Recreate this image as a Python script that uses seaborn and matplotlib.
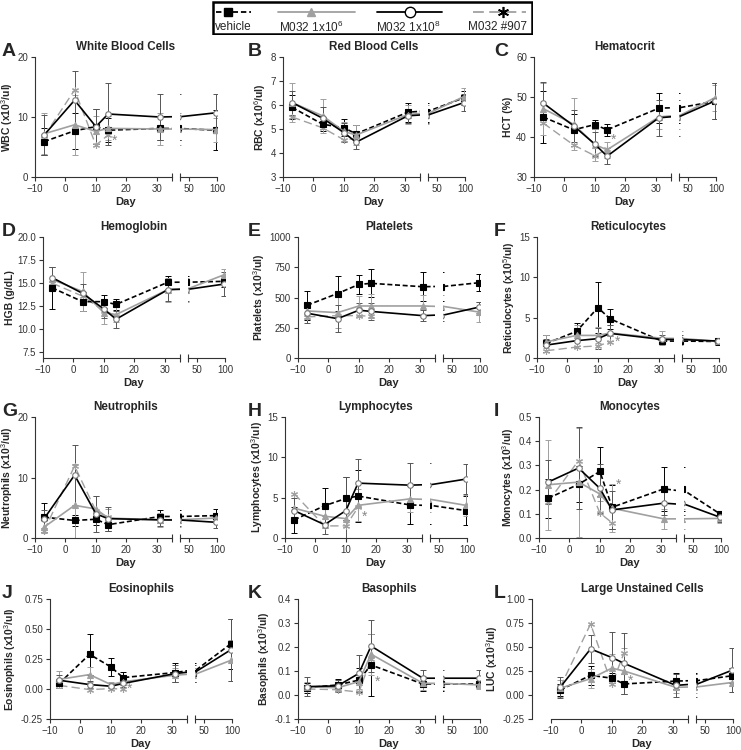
import numpy as np
import matplotlib
matplotlib.use("Agg")
import matplotlib.pyplot as plt
import seaborn as sns
from matplotlib.patches import Rectangle

sns.set_style("ticks")
plt.rcParams['font.family'] = ['Liberation Sans', 'DejaVu Sans']
plt.rcParams['mathtext.fontset'] = 'custom'
plt.rcParams['mathtext.rm'] = 'Liberation Sans'
plt.rcParams['mathtext.bf'] = 'Liberation Sans:bold'

# -------------------
# DATA
# -------------------
days = [-7, 3, 10, 14, 31, 98]
days_907 = [-7, 3, 10, 14]
series_names = ["vehicle", "M032 1x10$^6$", "M032 1x10$^8$", "M032 #907"]

# order of mean / sd rows: vehicle, 1x10^6, 1x10^8
wbc_mean = [[5.9, 7.7, 8.4, 7.8, 8.1, 7.8], [7.2, 8.7, 7.6, 8.1, 8.0, 7.9], [7.0, 12.8, 8.4, 10.5, 10.0, 10.7]]
wbc_sd = [[2.3, 3.0, 2.9, 2.0, 1.9, 3.3], [3.4, 5.0, 2.5, 2.0, 2.7, 2.0], [3.3, 4.9, 2.9, 5.1, 3.9, 3.2]]
wbc_907 = [6.8, 14.5, 5.3, 7.0]
wbc_sig = [(16, 6.1, "*")]

rbc_mean = [[5.9, 5.2, 5.05, 4.8, 5.7, 6.3], [6.1, 5.55, 4.9, 4.75, 5.6, 6.35], [6.1, 5.45, 4.85, 4.45, 5.55, 6.1]]
rbc_sd = [[0.5, 0.3, 0.35, 0.35, 0.4, 0.3], [0.8, 0.7, 0.4, 0.4, 0.4, 0.35], [0.5, 0.45, 0.4, 0.3, 0.3, 0.35]]
rbc_907 = [5.5, 5.05, 4.55, 4.6]
rbc_sig = []

hct_mean = [[45.0, 41.8, 43.1, 41.8, 47.2, 48.9], [47.1, 43.2, 38.1, 36.8, 45.0, 49.8], [48.5, 42.8, 38.2, 35.2, 44.8, 49.0]]
hct_sd = [[6.5, 4.0, 1.2, 1.5, 3.7, 4.5], [6.5, 6.5, 4.0, 2.0, 3.0, 3.3], [5.2, 4.0, 3.0, 2.0, 4.5, 4.5]]
hct_907 = [43.5, 38.0, 35.3, 37.0]
hct_sig = [(16, 39.3, "*")]

hgb_mean = [[14.5, 13.0, 13.0, 12.7, 15.1, 15.2], [15.4, 14.1, 11.8, 11.6, 14.3, 15.9], [15.6, 13.9, 12.2, 11.1, 14.3, 14.9]]
hgb_sd = [[2.3, 1.0, 0.7, 0.6, 0.7, 0.6], [1.3, 2.1, 1.2, 0.8, 1.3, 0.6], [1.1, 1.0, 1.0, 0.9, 1.2, 1.3]]
hgb_907 = [15.0, 13.6, 12.0, 11.5]
hgb_sig = []

plt_mean = [[436, 533, 608, 617, 589, 622], [389, 375, 430, 430, 430, 380], [370, 325, 395, 385, 350, 420]]
plt_sd = [[120, 145, 75, 115, 120, 70], [70, 130, 80, 100, 90, 80], [80, 110, 60, 70, 45, 45]]
plt_907 = [340, 350, 350, 345]
plt_sig = []

ret_mean = [[1.8, 3.3, 6.25, 4.85, 2.1, 2.05], [2.0, 2.8, 2.8, 3.1, 2.45, 2.05], [1.6, 2.15, 2.4, 3.05, 2.3, 2.1]]
ret_sd = [[1.0, 1.1, 3.2, 1.2, 0.3, 0.4], [0.8, 1.3, 1.0, 1.0, 0.9, 0.3], [0.8, 0.9, 1.3, 1.0, 0.5, 0.3]]
ret_907 = [0.9, 1.35, 1.5, 2.0]
ret_sig = [(16.5, 2.05, "*")]

neu_mean = [[3.45, 2.9, 3.1, 2.2, 3.55, 3.7], [1.8, 5.4, 4.8, 3.3, 3.0, 3.3], [3.2, 10.4, 4.0, 3.2, 3.0, 2.6]]
neu_sd = [[2.4, 0.9, 1.0, 1.0, 1.0, 1.1], [1.0, 6.9, 2.2, 1.5, 1.2, 0.8], [1.5, 4.9, 3.0, 2.0, 1.0, 1.0]]
neu_907 = [1.2, 11.9, 4.5, 3.4]
neu_sig = []

lym_mean = [[2.25, 4.0, 4.9, 5.2, 4.1, 3.4], [3.7, 2.7, 2.4, 4.05, 4.85, 4.05], [3.4, 1.65, 3.4, 6.8, 6.55, 7.3]]
lym_sd = [[1.6, 2.2, 2.7, 3.2, 2.4, 1.8], [1.2, 1.5, 1.0, 2.0, 1.6, 1.3], [1.6, 1.1, 4.2, 3.0, 2.7, 1.9]]
lym_907 = [5.5, 1.5, 1.5, 3.8]
lym_sig = [(16, 2.6, "*")]

mon_mean = [[0.164, 0.222, 0.275, 0.127, 0.203, 0.1], [0.22, 0.231, 0.182, 0.123, 0.079, 0.081], [0.231, 0.289, 0.205, 0.116, 0.144, 0.086]]
mon_sd = [[0.08, 0.075, 0.1, 0.09, 0.09, 0.01], [0.185, 0.225, 0.03, 0.1, 0.04, 0.02], [0.09, 0.17, 0.1, 0.08, 0.05, 0.02]]
mon_907 = [0.15, 0.32, 0.103, 0.063]
mon_sig = [(16, 0.22, "*")]

eos_mean = [[0.046, 0.289, 0.184, 0.095, 0.137, 0.377], [0.08, 0.12, 0.037, 0.06, 0.115, 0.239], [0.073, 0.037, 0.023, 0.046, 0.128, 0.327]]
eos_sd = [[0.04, 0.17, 0.075, 0.045, 0.08, 0.21], [0.07, 0.06, 0.02, 0.03, 0.06, 0.17], [0.04, 0.03, 0.03, 0.03, 0.07, 0.26]]
eos_907 = [0.03, -0.005, 0.003, 0.0]
eos_sig = [(16, 0.0, "*")]

bas_mean = [[0.03, 0.042, 0.062, 0.125, 0.046, 0.046], [0.035, 0.03, 0.056, 0.17, 0.049, 0.042], [0.035, 0.038, 0.09, 0.204, 0.07, 0.07]]
bas_sd = [[0.02, 0.025, 0.05, 0.13, 0.03, 0.01], [0.02, 0.015, 0.03, 0.085, 0.03, 0.015], [0.04, 0.025, 0.075, 0.11, 0.035, 0.035]]
bas_907 = [0.025, 0.022, 0.012, 0.15]
bas_sig = [(16, 0.055, "*")]

luc_mean = [[0.052, 0.205, 0.175, 0.115, 0.145, 0.2], [0.07, 0.17, 0.28, 0.25, 0.08, 0.13], [0.08, 0.48, 0.39, 0.33, 0.1, 0.257]]
luc_sd = [[0.06, 0.1, 0.05, 0.1, 0.08, 0.08], [0.09, 0.1, 0.15, 0.24, 0.06, 0.1], [0.11, 0.15, 0.27, 0.32, 0.12, 0.23]]
luc_907 = [0.08, 0.74, 0.11, 0.44]
luc_sig = [(16, 0.15, "*")]

letters = list("ABCDEFGHIJKL")
titles = ["White Blood Cells", "Red Blood Cells", "Hematocrit", "Hemoglobin", "Platelets",
          "Reticulocytes", "Neutrophils", "Lymphocytes", "Monocytes", "Eosinophils",
          "Basophils", "Large Unstained Cells"]
ylabels = ["WBC (x10$^3$/ul)", "RBC (x10$^6$/ul)", "HCT (%)", "HGB (g/dL)",
           "Platelets (x10$^3$/ul)", "Reticulocytes (x10$^5$/ul)", "Neutrophils (x10$^3$/ul)",
           "Lymphocytes (x10$^3$/ul)", "Monocytes (x10$^3$/ul)", "Eosinophils (x10$^3$/ul)",
           "Basophils (x10$^3$/ul)", "LUC (x10$^3$/ul)"]
yticks = [[0, 10, 20], [3, 4, 5, 6, 7, 8], [30, 40, 50, 60], [7.5, 10, 12.5, 15, 17.5, 20],
          [0, 250, 500, 750, 1000], [0, 5, 10, 15], [0, 10, 20], [0, 5, 10, 15],
          [0, 0.1, 0.2, 0.3, 0.4, 0.5], [-0.25, 0, 0.25, 0.5, 0.75], [-0.1, 0, 0.1, 0.2, 0.3, 0.4],
          [-0.25, 0, 0.25, 0.5, 0.75, 1.0]]
yfmt = ["%d", "%d", "%d", "%.1f", "%d", "%d", "%d", "%d", "%.1f", "%.2f", "%.1f", "%.2f"]
ybottom = [0, 3, 30, 6.9, 0, 0, 0, 0, 0, -0.25, -0.1, -0.25]

means = [wbc_mean, rbc_mean, hct_mean, hgb_mean, plt_mean, ret_mean,
         neu_mean, lym_mean, mon_mean, eos_mean, bas_mean, luc_mean]
sds = [wbc_sd, rbc_sd, hct_sd, hgb_sd, plt_sd, ret_sd,
       neu_sd, lym_sd, mon_sd, eos_sd, bas_sd, luc_sd]
single = [wbc_907, rbc_907, hct_907, hgb_907, plt_907, ret_907,
          neu_907, lym_907, mon_907, eos_907, bas_907, luc_907]
sigs = [wbc_sig, rbc_sig, hct_sig, hgb_sig, plt_sig, ret_sig,
        neu_sig, lym_sig, mon_sig, eos_sig, bas_sig, luc_sig]

# -------------------
# STYLE / LAYOUT
# -------------------
GRAY = "#a0a0a0"
styles = [
    dict(color="black", linestyle=(0, (3, 1.6)), marker="s", markersize=4,
         markerfacecolor="black", markeredgecolor="black"),
    dict(color=GRAY, linestyle="-", marker="^", markersize=4,
         markerfacecolor=GRAY, markeredgecolor=GRAY),
    dict(color="black", linestyle="-", marker="o", markersize=4,
         markerfacecolor="white", markeredgecolor="#777777"),
    dict(color=GRAY, linestyle=(0, (6, 3)), marker=(6, 2, 0), markersize=5,
         markerfacecolor=GRAY, markeredgecolor=GRAY),
]
err_colors = ["black", GRAY, "#555555"]

W, H = 741, 750
fig = plt.figure(figsize=(W / 100, H / 100), dpi=100)

row_y = [(57, 177), (237, 358), (417, 538), (599, 719)]
col_x = [[35, 283, 534], [43, 298, 537], [35, 285, 539], [50, 298, 551]]
LW, GAP, RW = 137, 8, 37
BREAK = 35


def px_rect(x, y_top, w, h):
    return [x / W, 1 - (y_top + h) / H, w / W, h / H]


def draw_series(ax, i):
    for k in range(3):
        ax.errorbar(days, means[i][k], yerr=sds[i][k], fmt="none", ecolor=err_colors[k],
                    elinewidth=0.7, capsize=2, capthick=0.7, zorder=1)
    for k in range(3):
        sns.lineplot(x=days, y=means[i][k], ax=ax, lw=1.2, markeredgewidth=0.8,
                     zorder=3, legend=False, **styles[k])
    sns.lineplot(x=days_907, y=single[i], ax=ax, lw=1.0, markeredgewidth=0.8,
                 zorder=2, legend=False, **styles[3])


for i in range(12):
    r, c = divmod(i, 3)
    x0 = col_x[r][c]
    yt, yb = row_y[r]
    h = yb - yt
    axl = fig.add_axes(px_rect(x0, yt, LW, h))
    axr = fig.add_axes(px_rect(x0 + LW + GAP, yt, RW, h), sharey=axl)
    for ax in (axl, axr):
        draw_series(ax, i)
        sns.despine(ax=ax)
        ax.tick_params(axis="both", which="major", length=3, width=0.8,
                       labelsize=7, colors="#333333", pad=2)
        ax.tick_params(axis="x", which="minor", length=6, width=0.8,
                       direction="inout", colors="#333333")
        for s in ("left", "bottom"):
            ax.spines[s].set_linewidth(0.8)
            ax.spines[s].set_color("#333333")
        ax.set_xlabel("")
        ax.set_ylabel("")
    for dx, dy, txt in sigs[i]:
        axl.text(dx, dy, txt, color="#888888", fontsize=10, ha="center", va="center")

    axl.set_xlim(-10, BREAK)
    axl.set_xticks([-10, 0, 10, 20, 30])
    axl.set_xticks([BREAK], minor=True)
    axl.set_ylim(ybottom[i], yticks[i][-1])
    axl.set_yticks(yticks[i])
    axl.set_yticklabels([yfmt[i] % v for v in yticks[i]])
    axl.set_ylabel(ylabels[i], fontsize=7.5, fontweight="bold", labelpad=2)

    axr.set_xlim(BREAK, 100)
    axr.set_xticks([50, 100])
    axr.set_xticks([BREAK], minor=True)
    axr.spines["left"].set_visible(False)
    axr.tick_params(axis="y", left=False, labelleft=False)

    if i == 11:
        axl.spines["left"].set_position(("outward", 14))

    cx = x0 + (LW + GAP + RW) / 2
    fig.text(cx / W, 1 - (yt - 10) / H, titles[i], ha="center", va="center",
             fontsize=8.4, fontweight="bold")
    fig.text(cx / W, 1 - (yb + 25) / H, "Day", ha="center", va="center",
             fontsize=8, fontweight="bold")
    fig.text((c * 246 + 2) / W, 1 - (yt - 6) / H, letters[i], ha="left", va="center",
             fontsize=14, fontweight="bold")

# -------------------
# LEGEND (handles above labels), laid out in figure pixels
# -------------------
LX0, LX1 = 212, 533
lg = fig.add_axes(px_rect(LX0, 1, LX1 - LX0, 34))
lg.set_xlim(LX0, LX1)
lg.set_ylim(34, 0)
lg.axis("off")
lg.add_patch(Rectangle((LX0 + 0.8, 0.6), LX1 - LX0 - 1.6, 32.8, fill=False, lw=1.8,
                       edgecolor="black"))
hx = [(216, 251), (278, 355), (377, 442), (473, 526)]
mx = [228, 311, 410, 503]
lx = [233, 311, 408, 498]
for k in range(4):
    st = dict(styles[k])
    st["markersize"] = 6
    st["markeredgecolor"] = "black" if k in (2, 3) else st["markeredgecolor"]
    if k == 2:
        st["markersize"] = 7.5
    if k == 3:
        st["markersize"] = 8
        st["markeredgewidth"] = 1.2
    line_kw = {kk: v for kk, v in st.items() if kk not in ("marker", "markeredgewidth")}
    lg.plot([hx[k][0], hx[k][1]], [11, 11], lw=1.3, **line_kw)
    mk_kw = {kk: v for kk, v in st.items() if kk not in ("linestyle", "color")}
    mk_kw.setdefault("markeredgewidth", 1.0)
    lg.plot([mx[k]], [11], linestyle="none", **mk_kw)
    lg.text(lx[k], 26, series_names[k], ha="center", va="center", fontsize=8.5)

fig.savefig("out.png", dpi=100)
